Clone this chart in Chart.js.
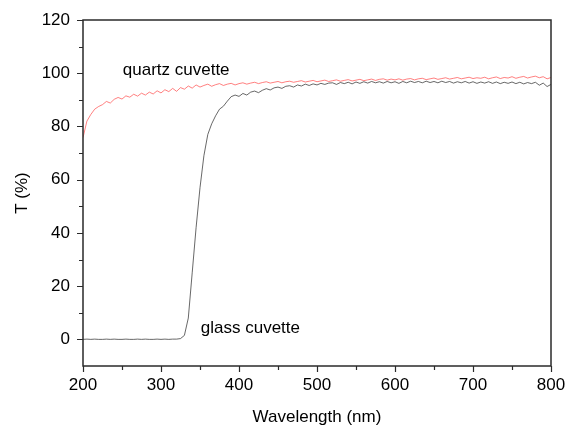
<!DOCTYPE html>
<html lang="en">
<head>
  <meta charset="UTF-8" />
  <title>Transmittance of quartz and glass cuvettes</title>
  <script src="https://cdn.jsdelivr.net/npm/chart.js"></script>
  <style>
    html, body { margin: 0; padding: 0; background: #fff; }
    .chart-container { width: 568px; height: 426px; }
  </style>
</head>
<body>
  <div class="chart-container">
    <canvas id="grafico" width="568" height="426"></canvas>
  </div>

  <script>
    // Wavelength (nm), every 5 nm
    const wavelengths = [
      200, 205, 210, 215, 220, 225, 230, 235, 240, 245,
      250, 255, 260, 265, 270, 275, 280, 285, 290, 295,
      300, 305, 310, 315, 320, 325, 330, 335, 340, 345,
      350, 355, 360, 365, 370, 375, 380, 385, 390, 395,
      400, 405, 410, 415, 420, 425, 430, 435, 440, 445,
      450, 455, 460, 465, 470, 475, 480, 485, 490, 495,
      500, 505, 510, 515, 520, 525, 530, 535, 540, 545,
      550, 555, 560, 565, 570, 575, 580, 585, 590, 595,
      600, 605, 610, 615, 620, 625, 630, 635, 640, 645,
      650, 655, 660, 665, 670, 675, 680, 685, 690, 695,
      700, 705, 710, 715, 720, 725, 730, 735, 740, 745,
      750, 755, 760, 765, 770, 775, 780, 785, 790, 795,
      800
    ];

    // T (%) quartz cuvette
    const quartzT = [
      75.8, 82.0, 84.5, 86.5, 87.5, 88.2, 89.4, 88.8, 90.2, 90.9,
      90.3, 91.5, 91.0, 92.1, 91.4, 92.5, 91.8, 92.9, 92.2, 93.4,
      92.6, 93.8, 93.1, 94.3, 93.2, 94.6, 94.0, 95.2, 94.4, 95.6,
      94.8, 95.4, 95.9, 95.1, 95.7, 96.1, 95.4, 95.9, 96.2, 95.6,
      96.1, 96.4, 95.9, 96.3, 96.6, 96.1, 96.5, 96.8, 96.3, 96.6,
      96.9, 96.4, 96.8, 97.0, 96.6, 96.9, 97.2, 96.7, 97.0, 97.3,
      96.8, 97.1, 97.4, 96.9, 97.2, 97.5, 97.0, 97.3, 97.6, 97.1,
      97.4, 97.7, 97.2, 97.5, 97.8, 97.3, 97.7, 97.9, 97.4, 97.8,
      97.5, 97.9, 97.4, 97.8, 98.0, 97.5, 97.9, 98.1, 97.6, 97.9,
      98.2, 97.7, 98.0, 98.3, 97.8, 98.1, 98.4, 97.9, 98.2, 98.5,
      98.0, 98.3, 98.1, 98.5, 97.9, 98.3, 98.6, 98.0, 98.4, 98.2,
      98.7, 98.1, 98.5, 98.8, 98.2, 98.6, 98.9, 98.3, 98.7, 97.9,
      98.4
    ];

    // T (%) glass cuvette
    const glassT = [
      0.0, 0.1, 0.0, 0.1, 0.0, 0.0, 0.1, 0.0, 0.1, 0.0,
      0.0, 0.1, 0.0, 0.0, 0.1, 0.0, 0.1, 0.0, 0.0, 0.1,
      0.0, 0.1, 0.0, 0.1, 0.1, 0.3, 1.5, 8.0, 25.0, 42.0,
      57.0, 69.0, 77.0, 81.0, 84.0, 86.5, 87.6, 89.5, 91.2, 91.8,
      91.3, 92.4, 91.8, 92.9, 93.3, 92.7, 93.6, 94.2, 93.7, 94.5,
      94.8, 94.3, 95.1, 95.3, 94.8, 95.6, 95.2, 95.9, 95.4, 96.0,
      95.6, 96.2, 95.8, 96.3, 96.4, 95.8, 96.5, 96.1, 96.6, 96.0,
      96.7, 96.2, 96.8, 96.3, 96.9, 96.4, 96.8, 96.3, 96.9, 96.4,
      96.8, 96.2, 96.9, 96.4, 97.0, 96.5, 96.9, 96.4, 97.0, 96.5,
      96.9, 96.4, 97.0, 96.5, 96.9, 96.3, 96.8, 96.4, 96.9, 96.3,
      96.8, 96.2, 96.7, 96.3, 96.8, 96.2, 96.7, 96.1, 96.6, 96.2,
      96.7, 96.1, 96.6, 96.0, 96.5, 96.1, 96.6, 95.5, 96.3, 95.0,
      95.8
    ];

    // axis ticks
    const xTicks = [200, 300, 400, 500, 600, 700, 800];
    const xMinorTicks = [250, 350, 450, 550, 650, 750];
    const yTicks = [0, 20, 40, 60, 80, 100, 120];
    const yMinorTicks = [10, 30, 50, 70, 90, 110];

    // curve labels (in data units)
    const curveLabels = [
      { text: 'quartz cuvette', x: 251, y: 99.2 },
      { text: 'glass cuvette', x: 351, y: 2.3 }
    ];

    const FONT = { family: "'Liberation Sans', Arial, sans-serif", size: 17 };
    const AXIS_COLOR = '#2a2a2a';

    // frame, outward ticks and curve labels
    const framePlugin = {
      id: 'frame',
      afterDatasetsDraw(chart) {
        const { ctx, chartArea: a, scales: { x, y } } = chart;
        ctx.save();
        ctx.strokeStyle = AXIS_COLOR;
        ctx.lineWidth = 1.5;
        ctx.strokeRect(a.left, a.top, a.right - a.left, a.bottom - a.top);

        ctx.lineWidth = 1.2;
        ctx.beginPath();
        xTicks.forEach(v => {
          const px = Math.round(x.getPixelForValue(v)) + 0.5;
          ctx.moveTo(px, a.bottom); ctx.lineTo(px, a.bottom + 6);
        });
        xMinorTicks.forEach(v => {
          const px = Math.round(x.getPixelForValue(v)) + 0.5;
          ctx.moveTo(px, a.bottom); ctx.lineTo(px, a.bottom + 4);
        });
        yTicks.forEach(v => {
          const py = Math.round(y.getPixelForValue(v)) + 0.5;
          ctx.moveTo(a.left, py); ctx.lineTo(a.left - 6, py);
        });
        yMinorTicks.forEach(v => {
          const py = Math.round(y.getPixelForValue(v)) + 0.5;
          ctx.moveTo(a.left, py); ctx.lineTo(a.left - 4, py);
        });
        ctx.stroke();

        ctx.fillStyle = '#000';
        ctx.font = FONT.size + 'px ' + FONT.family;
        ctx.textAlign = 'left';
        ctx.textBaseline = 'alphabetic';
        curveLabels.forEach(l => {
          ctx.fillText(l.text, x.getPixelForValue(l.x), y.getPixelForValue(l.y));
        });
        ctx.restore();
      }
    };

    const ctx = document.getElementById('grafico').getContext('2d');
    new Chart(ctx, {
      type: 'line',
      data: {
        datasets: [
          {
            label: 'glass cuvette',
            data: wavelengths.map((w, i) => ({ x: w, y: glassT[i] })),
            borderColor: 'rgba(40, 40, 40, 0.7)',
            borderWidth: 1,
            pointRadius: 0,
            tension: 0
          },
          {
            label: 'quartz cuvette',
            data: wavelengths.map((w, i) => ({ x: w, y: quartzT[i] })),
            borderColor: 'rgba(255, 60, 60, 0.65)',
            borderWidth: 1,
            pointRadius: 0,
            tension: 0
          }
        ]
      },
      options: {
        responsive: false,
        animation: false,
        devicePixelRatio: 1,
        layout: { padding: { top: 20, right: 17, left: 0, bottom: 0 } },
        plugins: {
          legend: { display: false },
          tooltip: { enabled: false }
        },
        scales: {
          x: {
            type: 'linear',
            min: 200,
            max: 800,
            afterBuildTicks: s => { s.ticks = xTicks.map(v => ({ value: v })); },
            afterFit: s => { s.height = 60; s.paddingLeft = 0; s.paddingRight = 0; },
            grid: { display: false, drawTicks: false },
            border: { display: false },
            ticks: { color: '#000', font: FONT, padding: 9, maxRotation: 0 },
            title: {
              display: true,
              text: 'Wavelength (nm)',
              color: '#000',
              font: { ...FONT, lineHeight: 1 },
              padding: { top: 0, bottom: 0.5 }
            }
          },
          y: {
            min: -10,
            max: 120,
            afterBuildTicks: s => { s.ticks = yTicks.map(v => ({ value: v })); },
            afterFit: s => { s.width = 83; s.paddingTop = 0; s.paddingBottom = 0; },
            grid: { display: false, drawTicks: false },
            border: { display: false },
            ticks: { color: '#000', font: FONT, padding: 13 },
            title: {
              display: true,
              text: 'T (%)',
              color: '#000',
              font: { ...FONT, lineHeight: 1 },
              padding: { top: 13.5, bottom: 0 }
            }
          }
        }
      },
      plugins: [framePlugin]
    });
  </script>
</body>
</html>
